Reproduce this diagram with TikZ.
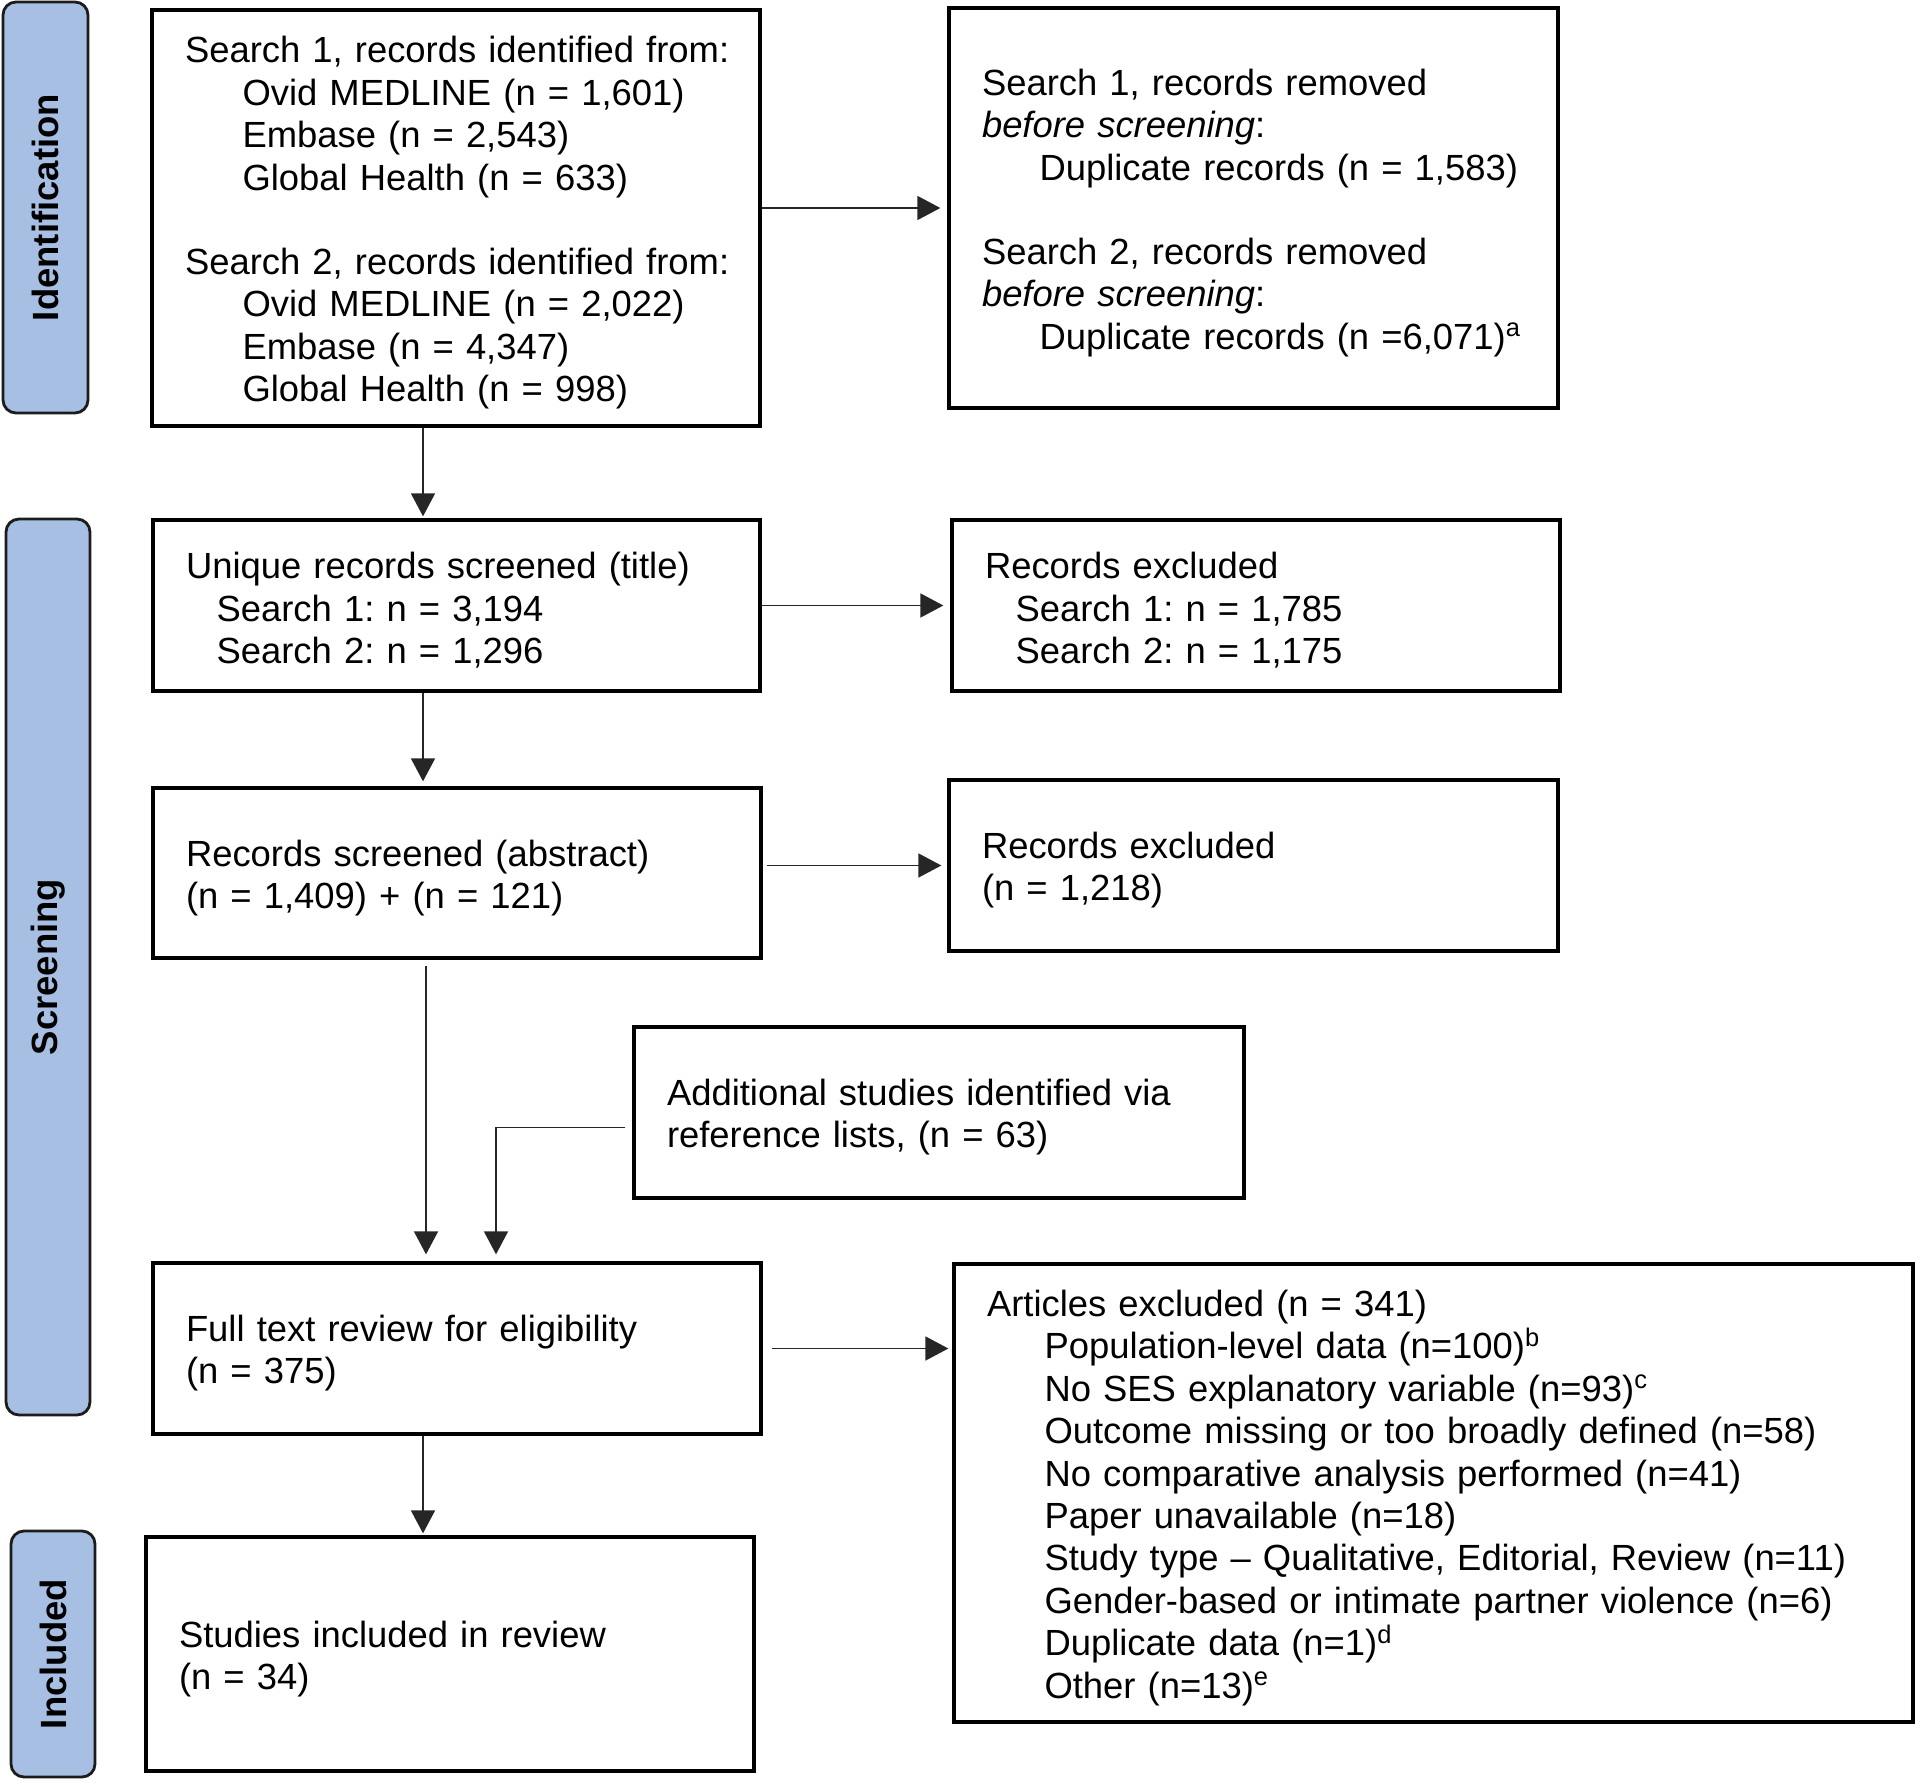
\documentclass[tikz,border=0pt]{standalone}
\usepackage{fontspec}
\setmainfont{Liberation Sans}
\usetikzlibrary{arrows.meta}
\definecolor{lblue}{HTML}{A7BFE3}
\definecolor{lborder}{HTML}{1C1C1C}
\frenchspacing
\begin{document}
\begin{tikzpicture}[x=0.5pt,y=-0.5pt,
  box/.style={draw=black, line width=1.65pt, rectangle, align=left, inner xsep=16.5pt, inner ysep=0pt,
    font=\fontsize{18.2pt}{21.2pt}\selectfont\frenchspacing,
    execute at begin node={\rule{0pt}{18pt}}},
  stage/.style={draw=lborder, fill=lblue, line width=1.4pt, rounded corners=6.5pt, rotate=90,
    inner sep=0pt, font=\fontsize{18.25pt}{21pt}\selectfont\bfseries},
  arr/.style={draw=black!85, line width=0.85pt, -{Triangle[length=11.5pt,width=12pt]}}]
\useasboundingbox (0,0) rectangle (1920,1786);

% stage labels
\node[stage, minimum width=205.5pt, minimum height=42.5pt] (sid) at (45.5,207.5) {Identification};
\node[stage, minimum width=448pt, minimum height=42pt] (ssc) at (48,967) {Screening};
\node[stage, minimum width=123pt, minimum height=42pt] (sin) at (53,1654) {Included};

% boxes
\node[box, minimum width=304pt, minimum height=208pt, text width=271pt] (A) at (456,218) {%
\mbox{Search 1, records identified from:}\\
\hspace*{28.75pt}Ovid MEDLINE (n = 1,601)\\
\hspace*{28.75pt}Embase (n = 2,543)\\
\hspace*{28.75pt}Global Health (n = 633)\\[21pt]
\mbox{Search 2, records identified from:}\\
\hspace*{28.75pt}Ovid MEDLINE (n = 2,022)\\
\hspace*{28.75pt}Embase (n = 4,347)\\
\hspace*{28.75pt}Global Health (n = 998)};

\node[box, minimum width=304.5pt, minimum height=200pt, text width=271.5pt] (B) at (1253.5,208) {%
Search 1, records removed\\
\textit{before screening}:\\
\hspace*{28.75pt}Duplicate records (n = 1,583)\\[21pt]
Search 2, records removed\\
\textit{before screening}:\\
\hspace*{28.75pt}\mbox{Duplicate records (n =6,071)\textsuperscript{a}}};

\node[box, minimum width=303.5pt, minimum height=85.5pt, text width=270.5pt] (C) at (456.5,605.5) {%
Unique records screened (title)\\
\hspace*{15.3pt}Search 1: n = 3,194\\
\hspace*{15.3pt}Search 2: n = 1,296};

\node[box, minimum width=304pt, minimum height=85.5pt, text width=271pt] (D) at (1256,605.5) {%
Records excluded\\
\hspace*{15.3pt}Search 1: n = 1,785\\
\hspace*{15.3pt}Search 2: n = 1,175};

\node[box, minimum width=304pt, minimum height=85pt, text width=271pt] (E) at (457,873) {%
Records screened (abstract)\\
(n = 1,409) + (n = 121)};

\node[box, minimum width=304.5pt, minimum height=85.5pt, text width=271.5pt] (F) at (1253.5,865.5) {%
Records excluded\\
(n = 1,218)};

\node[box, minimum width=305pt, minimum height=85.5pt, text width=272pt] (G) at (939,1112.5) {%
Additional studies identified via\\
reference lists, (n = 63)};

\node[box, minimum width=304pt, minimum height=85.5pt, text width=271pt] (H) at (457,1348.5) {%
Full text review for eligibility\\
(n = 375)};

\node[box, minimum width=479.5pt, minimum height=229pt, text width=446.5pt] (I) at (1433.5,1493) {%
Articles excluded (n = 341)\\
\hspace*{28.75pt}Population-level data (n=100)\textsuperscript{b}\\
\hspace*{28.75pt}No SES explanatory variable (n=93)\textsuperscript{c}\\
\hspace*{28.75pt}Outcome missing or too broadly defined (n=58)\\
\hspace*{28.75pt}No comparative analysis performed (n=41)\\
\hspace*{28.75pt}Paper unavailable (n=18)\\
\hspace*{28.75pt}\mbox{Study type -- Qualitative, Editorial, Review (n=11)}\\
\hspace*{28.75pt}Gender-based or intimate partner violence (n=6)\\
\hspace*{28.75pt}Duplicate data (n=1)\textsuperscript{d}\\
\hspace*{28.75pt}Other (n=13)\textsuperscript{e}};

\node[box, minimum width=304pt, minimum height=117pt, text width=271pt] (J) at (450,1654) {%
Studies included in review\\
(n = 34)};

% helper columns
\coordinate (colA) at (423,0);
\coordinate (colB) at (426,0);
\coordinate (colG) at (496,0);

% connectors
\draw[arr, shorten >=3.5pt] (A.east |- B.west) -- (B.west);
\draw[arr, shorten >=1pt] (A.south -| colA) -- (C.north -| colA);
\draw[arr, shorten >=3.5pt] (C.east) -- (C.east -| D.west);
\draw[arr, shorten >=2.5pt] (C.south -| colA) -- (E.north -| colA);
\draw[arr, shorten <=2pt, shorten >=3pt] (E.east |- F.west) -- (F.west);
\draw[arr, shorten <=3pt, shorten >=3.5pt] (E.south -| colB) -- (H.north -| colB);
\draw[arr, shorten <=3.5pt, shorten >=3.5pt] ([yshift=-7.5pt]G.west) -| (H.north -| colG);
\draw[arr, shorten <=4.5pt, shorten >=2pt] (H.east) -- (H.east -| I.west);
\draw[arr, shorten >=1pt] (H.south -| colA) -- (J.north -| colA);
\end{tikzpicture}
\end{document}
